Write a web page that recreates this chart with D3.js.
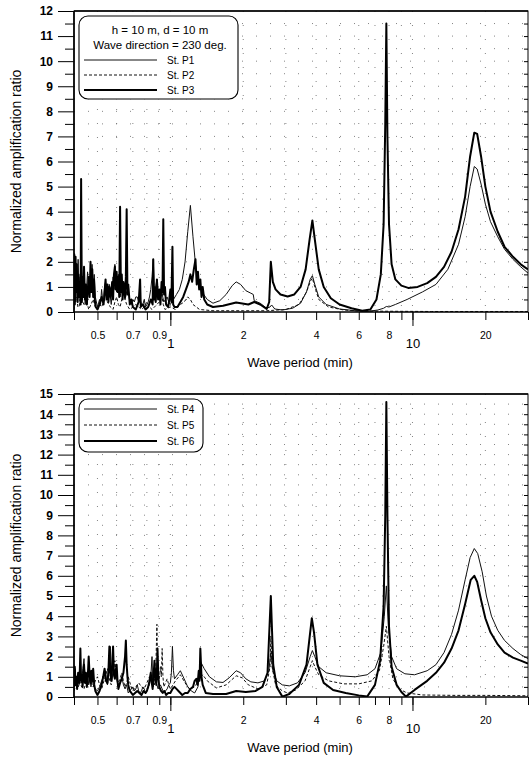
<!DOCTYPE html>
<html>
<head>
<meta charset="utf-8">
<script src="https://cdn.jsdelivr.net/npm/d3@7"></script>
<style>
  body { margin: 0; background: #fff; }
  text { font-family: "Liberation Sans", Arial, sans-serif; fill: #000; }
</style>
</head>
<body>
<div id="chart"></div>
<script>
// datos: [periodo (min), razon de amplificacion]
var stP1 = [[0.400,0.3],[0.403,1.2],[0.406,0.4],[0.41,1.6],[0.413,0.5],[0.416,2.1],[0.42,0.8],[0.424,1.4],[0.428,0.5],[0.432,1.1],[0.436,0.6],[0.44,1.0],[0.445,0.3],[0.45,0.8],[0.455,1.6],[0.46,0.9],[0.465,1.3],[0.47,0.8],[0.475,1.9],[0.48,0.9],[0.485,1.5],[0.49,0.6],[0.50,0.2],[0.51,0.5],[0.515,0.3],[0.52,0.9],[0.525,0.5],[0.53,0.4],[0.535,1.0],[0.54,1.2],[0.545,0.6],[0.55,0.9],[0.555,0.5],[0.56,1.1],[0.565,0.6],[0.57,0.3],[0.575,0.8],[0.58,1.4],[0.585,0.9],[0.59,1.9],[0.595,1.2],[0.60,0.8],[0.605,1.1],[0.61,1.5],[0.615,0.9],[0.62,0.6],[0.628,0.9],[0.635,1.2],[0.642,0.7],[0.65,0.5],[0.66,0.8],[0.67,0.9],[0.68,0.4],[0.69,0.3],[0.70,0.5],[0.71,0.4],[0.72,0.6],[0.73,0.6],[0.74,0.4],[0.75,0.5],[0.76,0.3],[0.77,0.3],[0.78,0.5],[0.79,0.2],[0.80,0.3],[0.81,0.4],[0.82,0.6],[0.83,0.9],[0.84,1.4],[0.85,2.1],[0.86,0.7],[0.87,1.0],[0.88,1.3],[0.89,0.7],[0.90,0.5],[0.91,0.8],[0.92,1.0],[0.93,0.6],[0.94,0.4],[0.955,0.5],[0.97,0.6],[0.985,0.4],[1.0,0.3],[1.03,0.5],[1.06,0.7],[1.09,0.9],[1.12,1.3],[1.15,2.0],[1.18,3.2],[1.21,4.25],[1.24,3.0],[1.27,1.9],[1.30,1.2],[1.35,0.8],[1.42,0.5],[1.5,0.35],[1.6,0.45],[1.7,0.7],[1.8,1.05],[1.87,1.2],[1.95,1.1],[2.05,0.85],[2.15,0.75],[2.2,0.7],[2.22,0.45],[2.35,0.35],[2.5,0.15],[2.58,0.2],[2.62,0.28],[2.7,0.12],[2.9,0.08],[3.2,0.15],[3.45,0.35],[3.65,0.8],[3.78,1.3],[3.86,1.45],[3.95,1.1],[4.1,0.6],[4.4,0.3],[5.0,0.12],[5.8,0.05],[6.5,0.02],[7.2,0.08],[7.6,0.15],[7.8,0.22],[8.0,0.2],[8.5,0.3],[9.5,0.5],[11,0.8],[12.5,1.1],[14,1.7],[15.5,2.7],[16.5,3.8],[17.3,5.0],[18.0,5.8],[18.5,5.7],[19.2,5.1],[20,4.3],[21,3.6],[22.5,3.0],[24,2.5],[26,2.1],[28,1.8],[30,1.55]];

var stP2 = [[0.40,0.1],[0.405,0.5],[0.41,0.6],[0.415,0.2],[0.42,0.2],[0.425,0.7],[0.43,0.9],[0.435,0.4],[0.44,0.3],[0.45,0.5],[0.46,0.1],[0.47,0.3],[0.48,0.5],[0.49,0.2],[0.50,0.1],[0.51,0.3],[0.52,0.2],[0.535,0.5],[0.55,0.4],[0.565,0.2],[0.58,0.1],[0.59,0.4],[0.60,0.6],[0.61,0.3],[0.62,0.2],[0.63,0.5],[0.64,0.9],[0.65,0.5],[0.66,0.3],[0.68,0.1],[0.70,0.2],[0.72,0.3],[0.74,0.2],[0.76,0.1],[0.78,0.2],[0.80,0.4],[0.82,0.2],[0.84,0.1],[0.86,0.2],[0.88,0.3],[0.90,0.4],[0.92,0.7],[0.935,0.3],[0.95,0.1],[1.0,0.2],[1.05,0.1],[1.1,0.3],[1.14,0.4],[1.18,0.6],[1.21,0.5],[1.24,0.3],[1.32,0.1],[1.5,0.05],[2.0,0.05],[2.5,0.05],[3.0,0.1],[3.4,0.3],[3.65,0.8],[3.8,1.25],[3.86,1.35],[3.95,1.0],[4.1,0.5],[4.5,0.2],[5.2,0.08],[6,0.04],[8,0.03],[12,0.02],[20,0.02],[30,0.02]];

var stP3 = [[0.400,1.0],[0.401,2.3],[0.403,0.3],[0.406,2.2],[0.408,0.8],[0.411,1.9],[0.414,0.4],[0.417,1.5],[0.42,0.6],[0.423,1.2],[0.426,0.3],[0.428,5.3],[0.431,0.4],[0.434,1.4],[0.437,0.6],[0.44,1.8],[0.444,0.5],[0.448,1.1],[0.452,0.3],[0.456,0.9],[0.46,1.4],[0.464,0.6],[0.468,2.0],[0.472,0.8],[0.476,1.7],[0.48,0.6],[0.484,1.3],[0.488,0.4],[0.492,0.2],[0.50,0.1],[0.51,0.3],[0.52,0.6],[0.53,0.3],[0.54,1.3],[0.545,0.5],[0.55,1.1],[0.555,0.4],[0.56,1.0],[0.567,0.6],[0.575,1.2],[0.58,0.5],[0.585,1.5],[0.59,1.8],[0.595,0.9],[0.60,1.6],[0.605,0.8],[0.61,1.4],[0.615,0.6],[0.62,4.2],[0.625,0.8],[0.63,1.5],[0.635,0.5],[0.64,1.2],[0.65,0.6],[0.655,1.4],[0.66,4.1],[0.665,0.7],[0.67,1.1],[0.68,0.3],[0.69,0.5],[0.70,0.2],[0.72,0.1],[0.74,0.4],[0.75,1.3],[0.755,0.2],[0.77,0.3],[0.79,0.1],[0.81,0.2],[0.83,0.5],[0.845,0.3],[0.85,2.1],[0.855,0.5],[0.86,1.0],[0.87,0.4],[0.88,1.3],[0.89,0.5],[0.90,0.9],[0.91,0.3],[0.92,1.2],[0.928,0.8],[0.935,3.7],[0.942,0.7],[0.95,1.0],[0.96,0.3],[0.98,0.2],[0.99,0.5],[1.0,0.9],[1.01,0.4],[1.02,2.6],[1.027,0.3],[1.04,0.2],[1.07,0.2],[1.1,0.4],[1.13,0.6],[1.16,0.9],[1.19,1.2],[1.21,1.5],[1.23,1.2],[1.25,1.7],[1.27,2.1],[1.285,1.1],[1.30,1.6],[1.315,0.9],[1.33,1.3],[1.345,0.6],[1.36,1.0],[1.38,0.5],[1.42,0.3],[1.5,0.2],[1.65,0.25],[1.87,0.38],[2.1,0.3],[2.22,0.4],[2.35,0.3],[2.5,0.12],[2.56,0.4],[2.6,2.0],[2.65,1.2],[2.72,0.9],[2.85,0.7],[3.05,0.62],[3.25,0.7],[3.45,1.0],[3.62,1.7],[3.76,2.9],[3.86,3.65],[3.95,2.9],[4.1,1.7],[4.3,1.0],[4.6,0.55],[5.0,0.3],[5.6,0.15],[6.2,0.05],[6.7,0.1],[7.1,0.5],[7.4,1.5],[7.6,3.5],[7.72,7.5],[7.8,11.5],[7.88,7.0],[8.0,3.5],[8.2,1.9],[8.5,1.3],[9.0,1.05],[9.6,0.96],[10.5,1.0],[11.5,1.15],[12.5,1.4],[13.5,1.8],[14.5,2.4],[15.5,3.3],[16.5,4.6],[17.3,6.2],[18.0,7.15],[18.5,7.1],[19.2,6.2],[20,5.0],[21,4.0],[22.5,3.2],[24,2.6],[26,2.2],[28,1.9],[30,1.7]];

var stP4 = [[0.400,0.8],[0.404,1.4],[0.408,0.6],[0.412,1.0],[0.416,0.5],[0.42,0.6],[0.425,1.1],[0.43,0.7],[0.435,1.4],[0.44,1.9],[0.445,0.7],[0.45,1.0],[0.455,1.2],[0.46,0.6],[0.465,0.9],[0.47,0.5],[0.475,0.9],[0.48,0.6],[0.49,0.4],[0.50,0.3],[0.51,0.5],[0.52,0.8],[0.53,1.0],[0.54,1.3],[0.545,0.7],[0.55,0.6],[0.555,1.1],[0.56,1.6],[0.565,2.5],[0.57,1.2],[0.575,0.9],[0.58,1.4],[0.59,1.3],[0.60,0.9],[0.61,0.5],[0.62,0.7],[0.63,1.0],[0.64,0.6],[0.65,0.4],[0.66,0.6],[0.67,0.2],[0.68,0.3],[0.69,0.4],[0.70,0.5],[0.71,0.3],[0.72,0.4],[0.73,0.6],[0.74,0.3],[0.75,0.2],[0.76,0.3],[0.77,0.5],[0.78,0.4],[0.79,0.2],[0.80,0.3],[0.81,0.5],[0.82,0.6],[0.83,1.0],[0.84,2.0],[0.845,0.8],[0.85,0.5],[0.86,0.9],[0.87,0.8],[0.88,0.6],[0.89,0.4],[0.90,0.5],[0.91,0.6],[0.925,0.4],[0.94,0.2],[0.955,0.3],[0.97,0.4],[0.985,0.6],[1.0,0.7],[1.01,1.2],[1.02,2.5],[1.03,1.3],[1.04,0.9],[1.07,1.1],[1.1,1.3],[1.14,0.9],[1.18,0.5],[1.22,0.3],[1.26,0.2],[1.30,0.5],[1.34,1.7],[1.38,1.4],[1.45,1.0],[1.55,0.75],[1.65,0.72],[1.75,0.95],[1.87,1.3],[1.95,1.2],[2.05,0.9],[2.15,0.75],[2.3,0.7],[2.45,0.8],[2.55,1.3],[2.6,2.2],[2.65,1.3],[2.75,0.8],[2.9,0.6],[3.1,0.55],[3.35,0.7],[3.6,1.2],[3.78,2.0],[3.86,2.3],[3.95,2.0],[4.1,1.5],[4.4,1.2],[5.0,1.05],[5.8,1.0],[6.5,1.1],[7.0,1.4],[7.4,2.2],[7.65,4.0],[7.8,5.5],[7.95,3.5],[8.2,2.0],[8.6,1.4],[9.3,1.15],[10.2,1.1],[11.5,1.3],[12.5,1.6],[13.5,2.2],[14.5,3.1],[15.5,4.3],[16.5,5.8],[17.3,6.9],[18.0,7.35],[18.6,7.1],[19.4,6.2],[20.2,5.0],[21.2,4.0],[22.5,3.3],[24,2.8],[26,2.4],[28,2.1],[30,1.9]];

var stP5 = [[0.40,0.3],[0.41,0.7],[0.42,0.9],[0.43,0.5],[0.44,0.4],[0.45,0.8],[0.46,1.3],[0.47,0.7],[0.48,0.5],[0.49,0.8],[0.50,1.0],[0.51,0.6],[0.52,0.4],[0.535,0.9],[0.55,1.4],[0.56,0.9],[0.57,0.6],[0.58,1.1],[0.59,1.8],[0.60,1.0],[0.61,0.7],[0.62,0.9],[0.63,1.2],[0.64,0.8],[0.65,0.5],[0.66,0.7],[0.67,1.0],[0.685,0.6],[0.70,0.3],[0.72,0.5],[0.74,0.7],[0.76,0.5],[0.78,0.4],[0.80,0.7],[0.82,1.0],[0.84,0.8],[0.86,0.6],[0.87,1.2],[0.88,3.6],[0.887,1.2],[0.895,0.8],[0.905,1.1],[0.91,1.5],[0.918,1.0],[0.925,2.4],[0.932,1.0],[0.94,0.5],[0.955,0.7],[0.97,0.9],[0.985,0.6],[1.0,0.4],[1.05,0.8],[1.1,1.1],[1.15,0.7],[1.2,0.4],[1.26,0.5],[1.32,0.9],[1.36,1.1],[1.42,0.8],[1.55,0.45],[1.7,0.6],[1.87,1.05],[1.98,0.95],[2.1,0.6],[2.3,0.4],[2.5,0.6],[2.58,1.5],[2.6,3.0],[2.63,1.5],[2.72,0.6],[2.9,0.3],[3.05,0.2],[3.3,0.35],[3.6,0.8],[3.78,1.5],[3.86,1.8],[3.95,1.5],[4.1,1.1],[4.5,0.8],[5.2,0.65],[6.0,0.65],[6.8,0.8],[7.3,1.3],[7.6,2.5],[7.8,3.5],[8.0,2.0],[8.3,0.9],[8.8,0.4],[9.5,0.2],[11,0.1],[15,0.08],[20,0.08],[30,0.06]];

var stP6 = [[0.400,0.5],[0.403,1.5],[0.406,0.6],[0.409,1.0],[0.412,0.4],[0.416,1.2],[0.42,0.7],[0.423,1.4],[0.425,2.4],[0.428,0.8],[0.431,1.1],[0.434,0.5],[0.437,1.0],[0.44,1.6],[0.444,0.7],[0.448,1.2],[0.452,0.5],[0.456,1.0],[0.46,2.0],[0.464,1.1],[0.468,0.7],[0.472,1.3],[0.476,0.8],[0.48,1.4],[0.485,0.6],[0.49,0.3],[0.50,0.1],[0.51,0.3],[0.52,0.6],[0.528,1.0],[0.535,1.4],[0.542,0.8],[0.55,0.7],[0.555,1.3],[0.56,2.5],[0.565,1.2],[0.57,0.8],[0.575,1.6],[0.58,2.5],[0.585,1.1],[0.59,0.9],[0.595,1.3],[0.60,1.6],[0.605,0.8],[0.61,0.4],[0.62,0.7],[0.63,0.9],[0.64,1.2],[0.645,1.6],[0.65,2.0],[0.655,2.8],[0.66,1.6],[0.665,1.0],[0.67,0.6],[0.68,0.3],[0.69,0.2],[0.70,0.1],[0.715,0.2],[0.73,0.3],[0.745,0.2],[0.76,0.1],[0.775,0.3],[0.79,0.2],[0.80,0.3],[0.81,0.5],[0.82,0.8],[0.83,1.2],[0.838,0.7],[0.845,0.4],[0.852,1.0],[0.86,1.8],[0.867,1.0],[0.875,0.6],[0.88,1.2],[0.885,2.4],[0.892,1.0],[0.90,0.5],[0.915,0.3],[0.93,0.2],[0.945,0.3],[0.96,0.1],[0.98,0.2],[1.0,0.2],[1.02,0.4],[1.04,0.5],[1.06,0.4],[1.08,0.3],[1.1,0.2],[1.12,0.1],[1.15,0.2],[1.18,0.2],[1.21,0.4],[1.24,0.5],[1.26,0.8],[1.28,0.9],[1.295,0.6],[1.31,1.3],[1.32,0.8],[1.33,2.4],[1.345,1.0],[1.36,0.6],[1.4,0.2],[1.5,0.15],[1.7,0.15],[1.87,0.3],[2.05,0.25],[2.25,0.3],[2.4,0.5],[2.52,1.2],[2.6,5.0],[2.66,1.6],[2.75,0.5],[2.9,0.02],[3.1,0.15],[3.4,0.6],[3.65,1.6],[3.78,3.2],[3.84,3.9],[3.92,3.2],[4.05,1.6],[4.3,0.7],[4.7,0.35],[5.3,0.2],[6.0,0.08],[6.5,0.02],[7.0,0.6],[7.35,1.8],[7.6,4.5],[7.72,9],[7.8,14.6],[7.88,9],[8.0,3.5],[8.2,1.5],[8.6,0.6],[9.0,0.25],[9.4,0.02],[10.2,0.35],[11.5,0.8],[12.5,1.2],[13.5,1.7],[14.5,2.4],[15.5,3.3],[16.5,4.6],[17.4,5.8],[18.0,6.0],[18.5,5.7],[19.2,4.8],[20,3.9],[21,3.2],[22.5,2.6],[24,2.2],[26,1.95],[28,1.8],[30,1.65]];

var xMinorTicks = [0.4,0.5,0.6,0.7,0.8,0.9,1,2,3,4,5,6,7,8,9,10,20,30];
var xLabelTicks = [0.5,0.7,0.9,2,4,6,8,20];
var xBigLabels = [1,10];
var topLegend = ["St. P1","St. P2","St. P3"];
var botLegend = ["St. P4","St. P5","St. P6"];

var W = 530, H = 757;
var svg = d3.select("#chart").append("svg").attr("width", W).attr("height", H);

// estilos de las tres lineas (fina, discontinua, gruesa)
var styles = [
  { color: "#111", width: 1, dash: null },
  { color: "#111", width: 1, dash: "3,2" },
  { color: "#000", width: 2, dash: null }
];

function drawPanel(cfg) {
  var x = d3.scaleLog().domain([0.4, 30]).range([74, 528]);
  var y = d3.scaleLinear().domain([0, cfg.yMax]).range([cfg.bottom, cfg.top]);
  var g = svg.append("g");

  var clipId = "clip" + cfg.top;
  svg.append("clipPath").attr("id", clipId)
    .append("rect").attr("x", 74).attr("y", cfg.top).attr("width", 454).attr("height", cfg.bottom - cfg.top);

  // rejilla punteada (muy tenue)
  var halfs = d3.range(0.5, cfg.yMax, 0.5);
  g.selectAll(".hgrid").data(halfs).enter().append("line")
    .attr("x1", 74).attr("x2", 528)
    .attr("y1", function(d) { return y(d); }).attr("y2", function(d) { return y(d); })
    .attr("stroke", "#666").attr("stroke-width", 0.8).attr("stroke-dasharray", "1,13");
  g.selectAll(".vgrid").data(xMinorTicks.slice(1, -1)).enter().append("line")
    .attr("x1", function(d) { return x(d); }).attr("x2", function(d) { return x(d); })
    .attr("y1", cfg.top).attr("y2", cfg.bottom)
    .attr("stroke", "#666").attr("stroke-width", 0.8).attr("stroke-dasharray", "1,13");

  // curvas
  var line = d3.line().x(function(d) { return x(d[0]); }).y(function(d) { return y(d[1]); });
  var lines = g.append("g").attr("clip-path", "url(#" + clipId + ")");
  cfg.series.forEach(function(s, i) {
    lines.append("path").datum(s)
      .attr("d", line)
      .attr("fill", "none")
      .attr("stroke", styles[i].color)
      .attr("stroke-width", styles[i].width)
      .attr("stroke-dasharray", styles[i].dash)
      .attr("stroke-linejoin", "round");
  });

  // ejes
  var yMajor = d3.range(0, cfg.yMax + 1);
  g.append("g").attr("transform", "translate(74,0)")
    .call(d3.axisLeft(y).tickValues(yMajor).tickSize(16).tickFormat(d3.format("d")).tickPadding(4))
    .call(function(a) {
      a.select(".domain").remove();
      a.selectAll("text").style("font-size", "12px").style("font-weight", "bold").attr("x", -21);
    });
  g.append("g").attr("transform", "translate(74,0)")
    .call(d3.axisLeft(y).tickValues(halfs.filter(function(d) { return d % 1 !== 0; })).tickSize(9).tickFormat(""))
    .call(function(a) { a.select(".domain").remove(); });
  g.append("g").attr("transform", "translate(528,0)")
    .call(d3.axisLeft(y).tickValues(halfs).tickSize(4).tickFormat(""))
    .call(function(a) { a.select(".domain").remove(); });

  g.append("g").attr("transform", "translate(0," + cfg.bottom + ")")
    .call(d3.axisBottom(x).tickValues(xMinorTicks).tickSize(8).tickFormat(""))
    .call(function(a) { a.select(".domain").remove(); });
  g.append("g").attr("transform", "translate(0," + cfg.bottom + ")")
    .call(d3.axisBottom(x).tickValues(xBigLabels).tickSize(14).tickFormat(""))
    .call(function(a) { a.select(".domain").remove(); });
  g.append("g").attr("transform", "translate(0," + cfg.bottom + ")")
    .call(d3.axisBottom(x).tickValues(xLabelTicks).tickSize(0).tickPadding(20).tickFormat(function(d) { return d; }))
    .call(function(a) {
      a.select(".domain").remove();
      a.selectAll("text").style("font-size", "10.5px");
    });
  g.append("g").attr("transform", "translate(0," + cfg.bottom + ")")
    .call(d3.axisBottom(x).tickValues(xBigLabels).tickSize(0).tickPadding(27).tickFormat(function(d) { return d; }))
    .call(function(a) {
      a.select(".domain").remove();
      a.selectAll("text").style("font-size", "13px");
    });

  // marco
  g.append("rect").attr("x", 74).attr("y", cfg.top).attr("width", 454).attr("height", cfg.bottom - cfg.top)
    .attr("fill", "none").attr("stroke", "#000").attr("stroke-width", 1);
  g.append("line").attr("x1", 74).attr("x2", 528).attr("y1", cfg.top).attr("y2", cfg.top)
    .attr("stroke", "#000").attr("stroke-width", 1.6);
  g.append("line").attr("x1", 74).attr("x2", 74).attr("y1", cfg.top).attr("y2", cfg.bottom)
    .attr("stroke", "#000").attr("stroke-width", 1.6);
  g.append("line").attr("x1", 74).attr("x2", 528).attr("y1", cfg.bottom).attr("y2", cfg.bottom)
    .attr("stroke", "#000").attr("stroke-width", 1.2);

  // titulos
  g.append("text").attr("x", 300).attr("y", cfg.bottom + 55)
    .attr("text-anchor", "middle").style("font-size", "13px").text("Wave period (min)");
  g.append("text")
    .attr("transform", "translate(21," + ((cfg.top + cfg.bottom) / 2) + ") rotate(-90)")
    .attr("text-anchor", "middle").style("font-size", "14px").text("Normalized amplification ratio");

  // leyenda
  var lg = g.append("g");
  lg.append("rect").attr("x", 79).attr("y", cfg.legTop).attr("width", cfg.legW).attr("height", cfg.legH)
    .attr("rx", 9).attr("fill", "#fff").attr("stroke", "#000").attr("stroke-width", 1.1);
  cfg.header.forEach(function(t, i) {
    lg.append("text").attr("x", 160).attr("y", cfg.legTop + 18 + i * 15)
      .attr("text-anchor", "middle").style("font-size", "11.5px").text(t);
  });
  cfg.names.forEach(function(name, i) {
    var yy = cfg.legFirst + i * cfg.legStep;
    lg.append("line").attr("x1", 84).attr("x2", 157).attr("y1", yy).attr("y2", yy)
      .attr("stroke", styles[i].color).attr("stroke-width", styles[i].width)
      .attr("stroke-dasharray", styles[i].dash);
    lg.append("text").attr("x", 167).attr("y", yy + 4).style("font-size", "10px").text(name);
  });
}

drawPanel({
  top: 11, bottom: 312, yMax: 12,
  series: [stP1, stP2, stP3],
  names: topLegend,
  header: ["h = 10 m, d = 10 m", "Wave direction = 230 deg."],
  legTop: 16, legW: 159, legH: 83, legFirst: 60, legStep: 15
});

drawPanel({
  top: 394, bottom: 697, yMax: 15,
  series: [stP4, stP5, stP6],
  names: botLegend,
  header: [],
  legTop: 399, legW: 124, legH: 53, legFirst: 409, legStep: 16
});
</script>
</body>
</html>
